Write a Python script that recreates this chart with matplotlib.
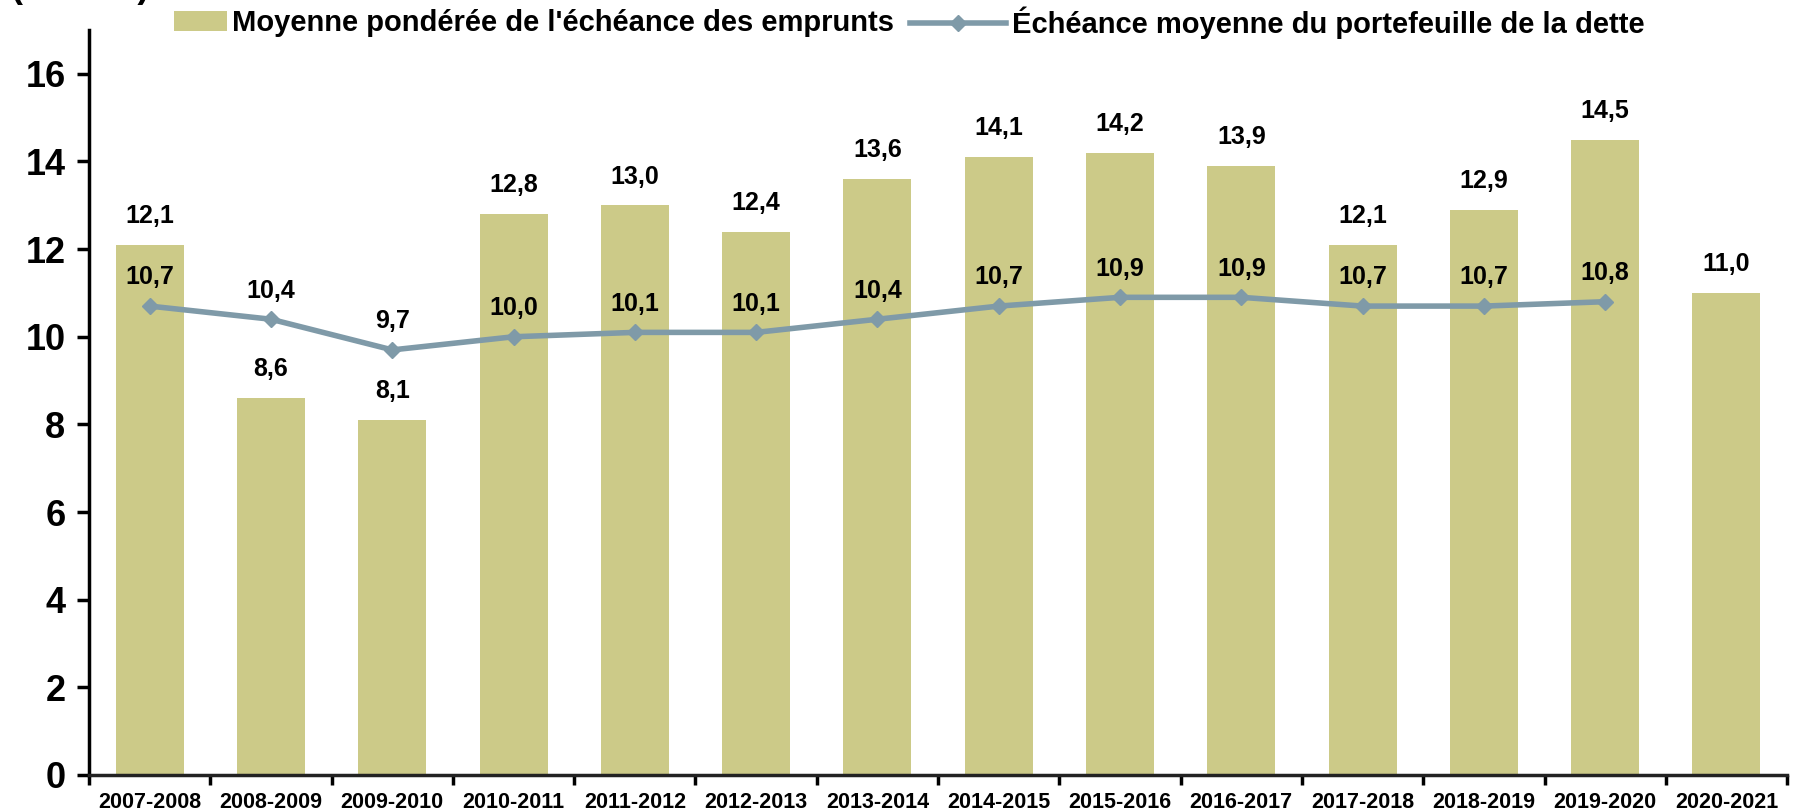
import numpy as np
import matplotlib.pyplot as plt

plt.switch_backend("agg")
plt.rcParams["font.family"] = ["Liberation Sans", "DejaVu Sans"]
plt.rcParams["font.weight"] = "bold"

periodes = ["2007-2008", "2008-2009", "2009-2010", "2010-2011", "2011-2012",
            "2012-2013", "2013-2014", "2014-2015", "2015-2016", "2016-2017",
            "2017-2018", "2018-2019", "2019-2020", "2020-2021"]
emprunts = [12.1, 8.6, 8.1, 12.8, 13.0, 12.4, 13.6, 14.1, 14.2, 13.9, 12.1, 12.9, 14.5, 11.0]
portefeuille = [10.7, 10.4, 9.7, 10.0, 10.1, 10.1, 10.4, 10.7, 10.9, 10.9, 10.7, 10.7, 10.8]

bar_color = "#CCCA88"
line_color = "#7F9AA8"

fig = plt.figure(figsize=(17.95, 8.11), dpi=100)
ax = fig.add_axes([0.0496, 0.0444, 0.946, 0.9186])

x = np.arange(len(periodes))
bars = ax.bar(x, emprunts, width=0.56, color=bar_color,
              label="Moyenne pondérée de l'échéance des emprunts", zorder=1)
xl = np.arange(len(portefeuille))
line, = ax.plot(xl, portefeuille, color=line_color, lw=4, marker="D", ms=8.5,
                label="Échéance moyenne du portefeuille de la dette", zorder=3)

def fmt(v):
    return ("%.1f" % v).replace(".", ",")

for xi, v in zip(x, emprunts):
    ax.annotate(fmt(v), (xi, v), xytext=(0, 12), textcoords="offset points",
                ha="center", va="bottom", fontsize=18, fontweight="bold")
for xi, v in zip(xl, portefeuille):
    ax.annotate(fmt(v), (xi, v), xytext=(0, 12), textcoords="offset points",
                ha="center", va="bottom", fontsize=18, fontweight="bold")

ax.set_xlim(-0.5, len(periodes) - 0.5)
ax.set_ylim(0, 17)
ax.set_yticks(range(0, 17, 2))
ax.tick_params(axis="y", labelsize=26, width=2.5, length=9, pad=8)
ax.set_xticks(x)
ax.set_xticklabels(periodes, fontsize=15.5, fontweight="bold")
ax.set_xticks(np.arange(-0.5, len(periodes), 1), minor=True)
ax.tick_params(axis="x", which="major", length=0, pad=12)
ax.tick_params(axis="x", which="minor", length=7, width=2.5)
for lab in ax.get_yticklabels():
    lab.set_fontweight("bold")

for s in ["top", "right"]:
    ax.spines[s].set_visible(False)
ax.spines["left"].set_linewidth(2.5)
ax.spines["bottom"].set_linewidth(2.5)
ax.spines["bottom"].set_color("#222222")

# axis unit, mostly cut off by the top edge as in the original
fig.text(0.006, 1.0 + 3 / 811, "(en ans)", fontsize=26, fontweight="bold",
         ha="left", va="baseline")

fig.legend(handles=[bars], loc="center left", bbox_to_anchor=(174 / 1795, 1 - 23 / 811),
           frameon=False, fontsize=21, handlelength=1.8, handletextpad=0.2,
           borderpad=0, borderaxespad=0)
fig.legend(handles=[line], loc="center left", bbox_to_anchor=(910 / 1795, 1 - 23 / 811),
           frameon=False, fontsize=21, handlelength=3.3, handletextpad=0.2,
           borderpad=0, borderaxespad=0)

fig.savefig("out.png", dpi=100)
